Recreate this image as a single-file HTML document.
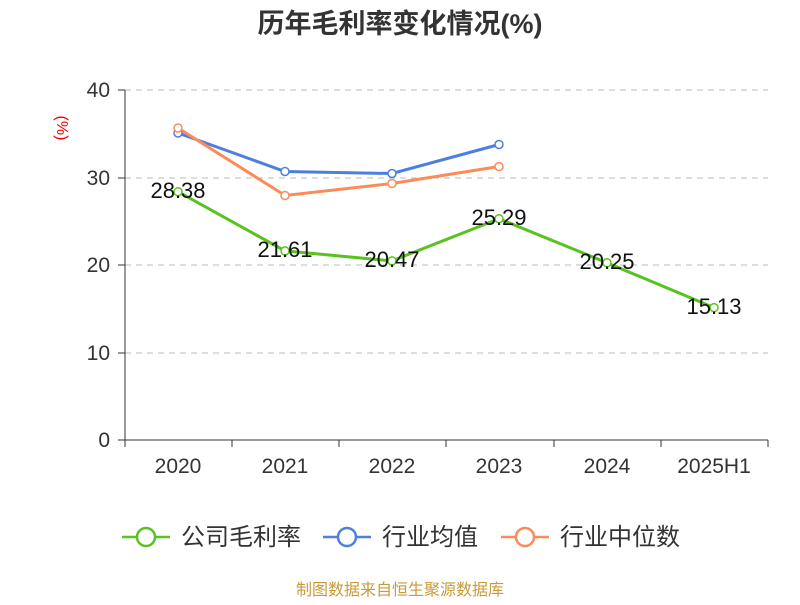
<!DOCTYPE html>
<html><head><meta charset="utf-8"><style>
body{margin:0;background:#fff;}
svg text{font-family:"Liberation Sans","Noto Sans CJK SC",sans-serif;}
</style></head><body>
<svg width="800" height="600" xmlns="http://www.w3.org/2000/svg">
<rect width="800" height="600" fill="#fff"/>
<text x="400" y="33" text-anchor="middle" font-size="27" font-weight="bold" fill="#333">历年毛利率变化情况(%)</text>
<text x="57" y="128" font-size="16" fill="#e00" transform="rotate(90 57 128)" text-anchor="middle">(%)</text>
<g stroke="#bbb" stroke-dasharray="6,5" stroke-width="1">
<line x1="125" y1="90" x2="768" y2="90"/>
<line x1="125" y1="178" x2="768" y2="178"/>
<line x1="125" y1="265" x2="768" y2="265"/>
<line x1="125" y1="353" x2="768" y2="353"/>
</g>
<g stroke="#333" stroke-width="1">
<line x1="125" y1="90" x2="125" y2="440"/>
<line x1="125" y1="440" x2="768" y2="440"/>
<line x1="118" y1="90" x2="125" y2="90"/><line x1="118" y1="178" x2="125" y2="178"/><line x1="118" y1="265" x2="125" y2="265"/><line x1="118" y1="353" x2="125" y2="353"/><line x1="118" y1="440" x2="125" y2="440"/>
<line x1="125" y1="440" x2="125" y2="447"/><line x1="232" y1="440" x2="232" y2="447"/><line x1="339" y1="440" x2="339" y2="447"/><line x1="446" y1="440" x2="446" y2="447"/><line x1="554" y1="440" x2="554" y2="447"/><line x1="661" y1="440" x2="661" y2="447"/><line x1="768" y1="440" x2="768" y2="447"/>
</g>
<g font-size="21" fill="#333" text-anchor="end">
<text x="110" y="97">40</text><text x="110" y="185">30</text><text x="110" y="272">20</text><text x="110" y="360">10</text><text x="110" y="447">0</text>
</g>
<g font-size="21" fill="#333" text-anchor="middle">
<text x="178" y="473">2020</text><text x="285" y="473">2021</text><text x="392" y="473">2022</text><text x="499" y="473">2023</text><text x="607" y="473">2024</text><text x="714" y="473">2025H1</text>
</g>
<polyline fill="none" stroke="#4e7fe0" stroke-width="3" points="178,133 285,171.5 392,173.5 499,144.5"/>
<polyline fill="none" stroke="#fb8c5a" stroke-width="3" points="178,128 285,195.5 392,183.5 499,166.5"/>
<polyline fill="none" stroke="#5ac21e" stroke-width="3" points="178,191.7 285,250.9 392,260.9 499,218.7 607,262.8 714,307.6"/>
<g fill="#fff" stroke-width="1.5">
<g stroke="#4e7fe0"><circle cx="178" cy="133" r="4"/><circle cx="285" cy="171.5" r="4"/><circle cx="392" cy="173.5" r="4"/><circle cx="499" cy="144.5" r="4"/></g>
<g stroke="#fb8c5a"><circle cx="178" cy="128" r="4"/><circle cx="285" cy="195.5" r="4"/><circle cx="392" cy="183.5" r="4"/><circle cx="499" cy="166.5" r="4"/></g>
<g stroke="#5ac21e"><circle cx="178" cy="191.7" r="4"/><circle cx="285" cy="250.9" r="4"/><circle cx="392" cy="260.9" r="4"/><circle cx="499" cy="218.7" r="4"/><circle cx="607" cy="262.8" r="4"/><circle cx="714" cy="307.6" r="4"/></g>
</g>
<g font-size="22" fill="#111" text-anchor="middle">
<text x="178" y="198">28.38</text><text x="285" y="257">21.61</text><text x="392" y="267">20.47</text><text x="499" y="225">25.29</text><text x="607" y="269">20.25</text><text x="714" y="314">15.13</text>
</g>
<g stroke-width="2.5" fill="#fff">
<line x1="122" y1="537" x2="170" y2="537" stroke="#5ac21e"/><circle cx="146" cy="537" r="9" stroke="#5ac21e"/>
<line x1="323" y1="537" x2="371" y2="537" stroke="#4e7fe0"/><circle cx="347" cy="537" r="9" stroke="#4e7fe0"/>
<line x1="501" y1="537" x2="549" y2="537" stroke="#fb8c5a"/><circle cx="525" cy="537" r="9" stroke="#fb8c5a"/>
</g>
<g font-size="24" fill="#333">
<text x="181" y="545">公司毛利率</text><text x="382" y="545">行业均值</text><text x="560" y="545">行业中位数</text>
</g>
<text x="400" y="595" text-anchor="middle" font-size="16" fill="#c99a3a">制图数据来自恒生聚源数据库</text>
</svg>
</body></html>
